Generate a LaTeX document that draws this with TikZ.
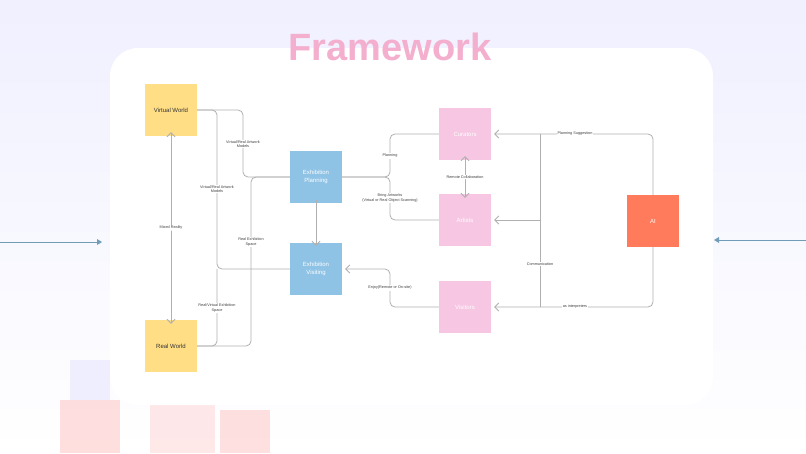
\documentclass[tikz,border=0pt]{standalone}
\usepackage{fontspec}
\setmainfont{Liberation Sans}
\usetikzlibrary{arrows.meta}
\definecolor{ylw}{HTML}{FFDE85}
\definecolor{blu}{HTML}{8EC3E6}
\definecolor{pnk}{HTML}{F7C6E3}
\definecolor{org}{HTML}{FF7B5C}
\definecolor{lin}{HTML}{B0B0B0}
\definecolor{ttl}{HTML}{F4AFCF}
\begin{document}
\begin{tikzpicture}[x=1pt,y=-1pt,
 tip/.tip={Straight Barb[length=4pt,width=8pt,line width=0.8pt]},
 box/.style={minimum width=52pt,minimum height=52pt,inner sep=0pt,font=\fontsize{6}{8}\selectfont,align=center,text=white},
 ln/.style={draw=lin,line width=0.8pt,rounded corners=5pt},
 arw/.style={ln,-tip},
 barw/.style={ln,tip-tip},
 lb/.style={font=\fontsize{3.8}{4.6}\selectfont,text=black!75,fill=white,inner sep=0.8pt,align=center}]
\useasboundingbox (0,0) rectangle (806,453);
\shade[top color=blue!6!white,bottom color=white] (0,0) rectangle (806,453);
\fill[red!25,opacity=0.5] (60,400) rectangle (120,453);
\fill[red!15,opacity=0.6] (150,405) rectangle (215,453);
\fill[red!30,opacity=0.4] (220,410) rectangle (270,453);
\fill[blue!10,opacity=0.6] (70,360) rectangle (110,400);
\draw[blu!80!black,line width=0.6pt] (0,242) -- (98,242);
\fill[blu!80!black] (102,242) -- (97,239) -- (97,245) -- cycle;
\draw[blu!80!black,line width=0.6pt] (718,240) -- (806,240);
\fill[blu!80!black] (714,240) -- (719,237) -- (719,243) -- cycle;
\fill[white,rounded corners=28pt] (110,48) rectangle (713,405);
\node[font=\fontsize{38}{40}\selectfont\bfseries,text=ttl] (title) at (390,47) {Framework};
\node[box,fill=ylw,text=black!80] (vw) at (171,110) {Virtual World};
\node[box,fill=ylw,text=black!80] (rw) at (171,346) {Real World};
\node[box,fill=blu] (ep) at (316,177) {Exhibition\\Planning};
\node[box,fill=blu] (ev) at (316,269) {Exhibition\\Visiting};
\node[box,fill=pnk] (cu) at (465,134) {Curators};
\node[box,fill=pnk] (art) at (465,220) {Artists};
\node[box,fill=pnk] (vi) at (465,307) {Visitors};
\node[box,fill=org] (ai) at (653,221) {AI};
% left side
\draw[ln] (vw.east) -| (243,177) -- (ep.west);
\draw[ln] (vw.east) -| (217,269) -- (ev.west);
\draw[ln] (rw.east) -| (217,269);
\draw[ln] (rw.east) -| (251,177) -- (ep.west);
\node[lb] at (243,144) {Virtual/Real Artwork\\Models};
\node[lb] at (217,189) {Virtual/Real Artwork\\Models};
\node[lb] at (251,242) {Real Exhibition\\Space};
\node[lb] at (217,308) {Real/Virtual Exhibition\\Space};
\draw[barw] ([yshift=4pt]vw.south) -- ([yshift=-4pt]rw.north) node[lb,pos=0.5] {Mixed Reality};
\draw[arw] ([yshift=3pt]ep.south) -- ([yshift=-3pt]ev.north);
% right side
\draw[ln] (ep.east) -| (390,134) -- (cu.west);
\draw[ln] (ep.east) -| (390,220) -- (art.west);
\node[lb] at (390,156) {Planning};
\node[lb] at (390,198) {Bring Artworks\\(Virtual or Real Object Scanning)};
\draw[barw] ([yshift=4pt]cu.south) -- ([yshift=-4pt]art.north) node[lb,midway] {Remote Collaboration};
\draw[arw] (vi.west) -| (390,269) -- ([xshift=3pt]ev.east);
\node[lb] at (390,288) {Enjoy(Remote or On-site)};
\draw[arw] (ai.north) |- ([xshift=3pt]cu.east);
\draw[arw] (ai.south) |- ([xshift=3pt]vi.east);
\node[lb] at (575,134) {Planning Suggestion};
\node[lb] at (575,307) {as interpreters};
\draw[ln] (540,134) -- (540,307);
\draw[arw] (540,220) -- ([xshift=3pt]art.east);
\node[lb] at (540,264) {Communication};
\end{tikzpicture}
\end{document}
